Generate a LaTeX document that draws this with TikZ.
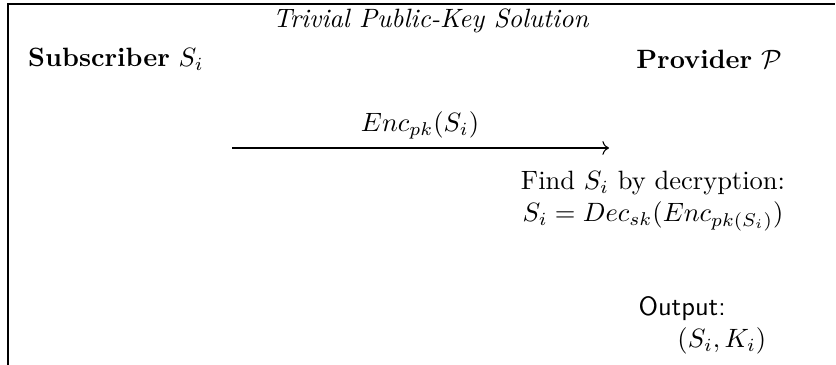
\documentclass[tikz,border=0pt]{standalone}
\usetikzlibrary{arrows.meta}
\begin{document}
\begin{tikzpicture}[x=0.3774pt,y=-0.3774pt,
  frameline/.style={line width=0.4pt},
  msg/.style={->,line width=0.4pt},
  lbl/.style={inner sep=0pt,anchor=center}]
\useasboundingbox (0,0) rectangle (836,365);
\coordinate (fa) at (8,366);
\coordinate (fb) at (8,4);
\coordinate (fc) at (835,4);
\draw[frameline] (fa) -- (fb) -- (fc);
\node[lbl] (title) at (431,21) {\textit{Trivial Public-Key Solution}};
\node[lbl] (sub) at (116,59) {\textbf{Subscriber} $S_i$};
\node[lbl] (prov) at (709,59) {\textbf{Provider} $\mathcal{P}$};
\coordinate (m1) at (232,148);
\coordinate (m2) at (609,148);
\draw[msg] (m1) -- (m2);
\node[lbl] (enc) at (420,125) {$Enc_{pk}(S_i)$};
\node[lbl,align=center] (dec) at (653,201) {Find $S_i$ by decryption:\\ $S_i = Dec_{sk}(Enc_{pk(S_i)})$};
\node[lbl,align=left,anchor=north west] (out) at (638,296) {\textsf{Output:}\\ \hspace*{14.7pt}$(S_i,K_i)$};
\end{tikzpicture}
\end{document}
